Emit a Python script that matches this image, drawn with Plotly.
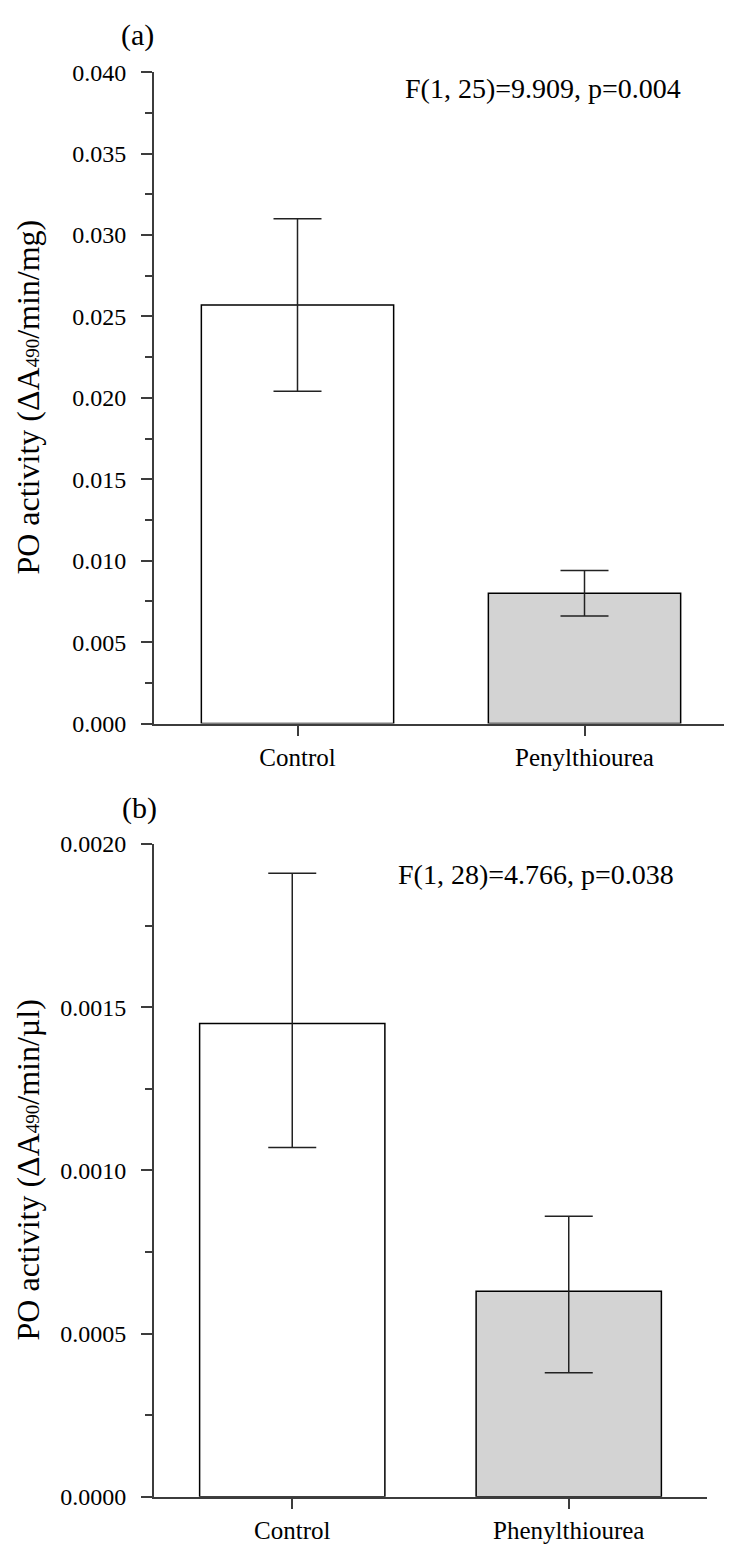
import plotly.graph_objects as go

# panel (a)
cats_a = ["Control", "Penylthiourea"]
mean_a = [0.0257, 0.0080]
err_a_up = [0.0053, 0.0014]
err_a_dn = [0.0053, 0.0014]
stat_a = "F(1, 25)=9.909, p=0.004"

# panel (b)
cats_b = ["Control", "Phenylthiourea"]
mean_b = [0.00145, 0.00063]
err_b_up = [0.00046, 0.00023]
err_b_dn = [0.00038, 0.00025]
stat_b = "F(1, 28)=4.766, p=0.038"

fills = ["white", "#d3d3d3"]
FONT = "Liberation Serif, Times New Roman, serif"
AX = "#3c3c3c"
W, H = 732, 1553
OFF = 8  # page body margin

fig = go.Figure()
for cats, means, up, dn, xa, ya in [(cats_a, mean_a, err_a_up, err_a_dn, "x", "y"),
                                     (cats_b, mean_b, err_b_up, err_b_dn, "x2", "y2")]:
    fig.add_trace(go.Bar(
        x=cats, y=means, width=0.67,
        marker=dict(color=fills, line=dict(color="black", width=1.5)),
        error_y=dict(type="data", array=up, arrayminus=dn, color="#222",
                     thickness=1.5, width=24),
        xaxis=xa, yaxis=ya, showlegend=False,
    ))


def px_x(v):
    return (v - OFF) / W


def px_y(v):
    return 1 - (v - OFF) / H


def xax(dom, anchor):
    return dict(domain=dom, anchor=anchor, showline=True, linecolor=AX, linewidth=2,
                ticks="outside", ticklen=10, tickwidth=1.5, tickcolor=AX,
                range=[-0.5, 1.5], tickfont=dict(size=25, color="black"),
                showgrid=False, zeroline=False, fixedrange=True)


def yax(dom, anchor, rng, dtick, fmt):
    return dict(domain=dom, anchor=anchor, range=rng, dtick=dtick, tickformat=fmt,
                showline=True, linecolor=AX, linewidth=2,
                ticks="outside", ticklen=11, tickwidth=1.5, tickcolor=AX,
                minor=dict(dtick=dtick / 2, ticks="outside", ticklen=7, tickcolor=AX, tickwidth=1.5),
                tickfont=dict(size=24, color="black"), ticklabelstandoff=10,
                showgrid=False, zeroline=False)


small = "<span style='font-size:19px'>490</span>"
anns = [
    dict(text="(a)", x=px_x(137), y=px_y(22), font=dict(size=30)),
    dict(text="(b)", x=px_x(139), y=px_y(808), font=dict(size=30)),
    dict(text=stat_a, x=px_x(543), y=px_y(77), font=dict(size=28)),
    dict(text=stat_b, x=px_x(536), y=px_y(876), font=dict(size=28)),
]
for a in anns:
    a.update(xanchor="center")
titles = [
    dict(text="PO activity (\u0394A" + small + "/min/mg)", y=px_y(391)),
    dict(text="PO activity (\u0394A" + small + "/min/\u00b5l)", y=px_y(1177)),
]
for t in titles:
    t.update(x=0, xanchor="left", textangle=-90, font=dict(size=32))
anns += titles
for a in anns:
    a.update(xref="paper", yref="paper", showarrow=False, yanchor="middle")

fig.update_layout(
    width=W, height=H,
    margin=dict(l=0, r=0, t=0, b=0),
    paper_bgcolor="white", plot_bgcolor="white",
    font=dict(family=FONT, color="black"),
    xaxis=xax([px_x(154), px_x(728)], "y"),
    yaxis=yax([px_y(722.5), px_y(60)], "x", [0, 0.04], 0.005, ".3f"),
    xaxis2=xax([px_x(154), px_x(707)], "y2"),
    yaxis2=yax([px_y(1509), px_y(845)], "x2", [0, 0.002], 0.0005, ".4f"),
    annotations=anns,
)

fig.write_html("out.html")
